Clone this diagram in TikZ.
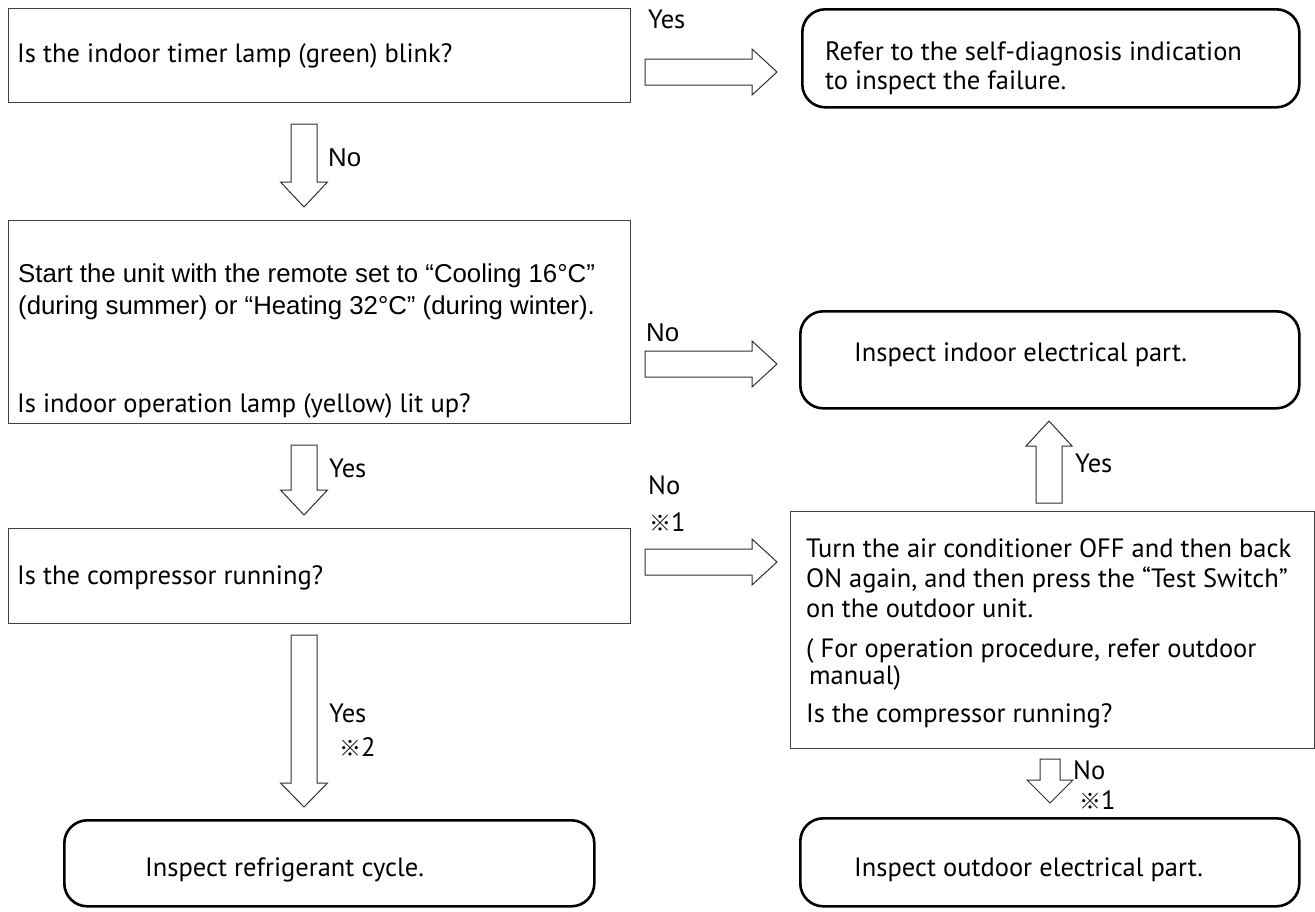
\documentclass[tikz,border=0pt]{standalone}
\usepackage{fontspec}
\setmainfont{PT Sans}
\newfontfamily\arialf{Liberation Sans}
\newfontfamily\cjkf{Noto Sans CJK JP}
\definecolor{boxgray}{HTML}{404040}
\definecolor{arrowgray}{HTML}{303030}
\begin{document}
\begin{tikzpicture}[x=1pt,y=-1pt,
  rectbox/.style={draw=boxgray,line width=1.2pt,inner sep=0pt,anchor=north west},
  roundbox/.style={draw=black,line width=2.6pt,rounded corners=23pt,inner sep=0pt,anchor=north west},
  txt/.style={inner sep=0pt,anchor=base west,font=\fontsize{26.5}{30}\selectfont},
  atxt/.style={inner sep=0pt,anchor=base west,font=\arialf\fontsize{25.8}{30}\selectfont},
  blk/.style={draw=arrowgray,line width=1pt,line join=miter}]
\useasboundingbox (0,0) rectangle (1315,911);

% boxes
\node[rectbox,minimum width=622pt,minimum height=94pt] (b1) at (8,8) {};
\node[roundbox,minimum width=497pt,minimum height=98pt] (r1) at (801,8) {};
\node[rectbox,minimum width=622pt,minimum height=203pt] (b2) at (8,220) {};
\node[roundbox,minimum width=499pt,minimum height=97pt] (r2) at (799,310) {};
\node[rectbox,minimum width=622pt,minimum height=95pt] (b3) at (8,528) {};
\node[rectbox,minimum width=524pt,minimum height=237pt] (r3) at (790,511) {};
\node[roundbox,minimum width=530pt,minimum height=86pt] (r4) at (63,819) {};
\node[roundbox,minimum width=499pt,minimum height=88pt] (r5) at (799,817) {};

% texts
\node[txt] (t1) at (17,62) {Is the indoor timer lamp (green) blink?};
\node[txt] (t2a) at (825,60) {Refer to the self-diagnosis indication};
\node[txt] (t2b) at (825,89) {to inspect the failure.};
\node[atxt] (t3a) at (18,282) {Start the unit with the remote set to “Cooling 16°C”};
\node[atxt] (t3b) at (18,314) {(during summer) or “Heating 32°C” (during winter).};
\node[txt] (t3c) at (17,412) {Is indoor operation lamp (yellow) lit up?};
\node[txt] (t4) at (854,361) {Inspect indoor electrical part.};
\node[txt] (t5) at (17,584) {Is the compressor running?};
\node[txt] (t6a) at (806,557) {Turn the air conditioner OFF and then back};
\node[txt] (t6b) at (806,587) {ON again, and then press the “Test Switch”};
\node[txt] (t6c) at (806,617) {on the outdoor unit.};
\node[txt] (t6d) at (806,657) {( For operation procedure, refer outdoor};
\node[txt] (t6e) at (809,684) {manual)};
\node[txt] (t6f) at (806,722) {Is the compressor running?};
\node[txt] (t7) at (145,876) {Inspect refrigerant cycle.};
\node[txt] (t8) at (854,876) {Inspect outdoor electrical part.};

% labels
\node[txt] (l1) at (648,28) {Yes};
\node[atxt] (l2) at (328,166) {No};
\node[atxt] (l3) at (646,341) {No};
\node[txt] (l4) at (329,477) {Yes};
\node[txt] (l5) at (1075,472) {Yes};
\node[txt] (l6) at (648,494) {No};
\node[txt] (l7) at (649,531) {{\cjkf\fontsize{22}{26}\selectfont ※}1};
\node[txt] (l8) at (329,722) {Yes};
\node[txt] (l9) at (339,756) {{\cjkf\fontsize{22}{26}\selectfont ※}2};
\node[txt] (l10) at (1073,779) {No};
\node[txt] (l11) at (1079,809) {{\cjkf\fontsize{22}{26}\selectfont ※}1};

% block arrows: right
\draw[blk] (645,59) -- (752,59) -- (752,49) -- (777,72) -- (752,95) -- (752,85) -- (645,85) -- cycle;
\draw[blk] (645,351) -- (752,351) -- (752,341) -- (777,364) -- (752,387) -- (752,377) -- (645,377) -- cycle;
\draw[blk] (645,549) -- (752,549) -- (752,539) -- (777,562) -- (752,585) -- (752,575) -- (645,575) -- cycle;
% block arrows: down
\draw[blk] (291,124) -- (291,182) -- (280.5,182) -- (304,207) -- (327.5,182) -- (317,182) -- (317,124) -- cycle;
\draw[blk] (291,445) -- (291,490) -- (280.5,490) -- (304,515) -- (327.5,490) -- (317,490) -- (317,445) -- cycle;
\draw[blk] (291,635) -- (291,783) -- (280.5,783) -- (304,807) -- (327.5,783) -- (317,783) -- (317,635) -- cycle;
\draw[blk] (1040,759) -- (1040,780) -- (1027,780) -- (1050,803) -- (1073,780) -- (1060,780) -- (1060,759) -- cycle;
% block arrow: up
\draw[blk] (1036,503) -- (1036,446) -- (1026,446) -- (1049,421) -- (1072,446) -- (1062,446) -- (1062,503) -- cycle;
\end{tikzpicture}
\end{document}
